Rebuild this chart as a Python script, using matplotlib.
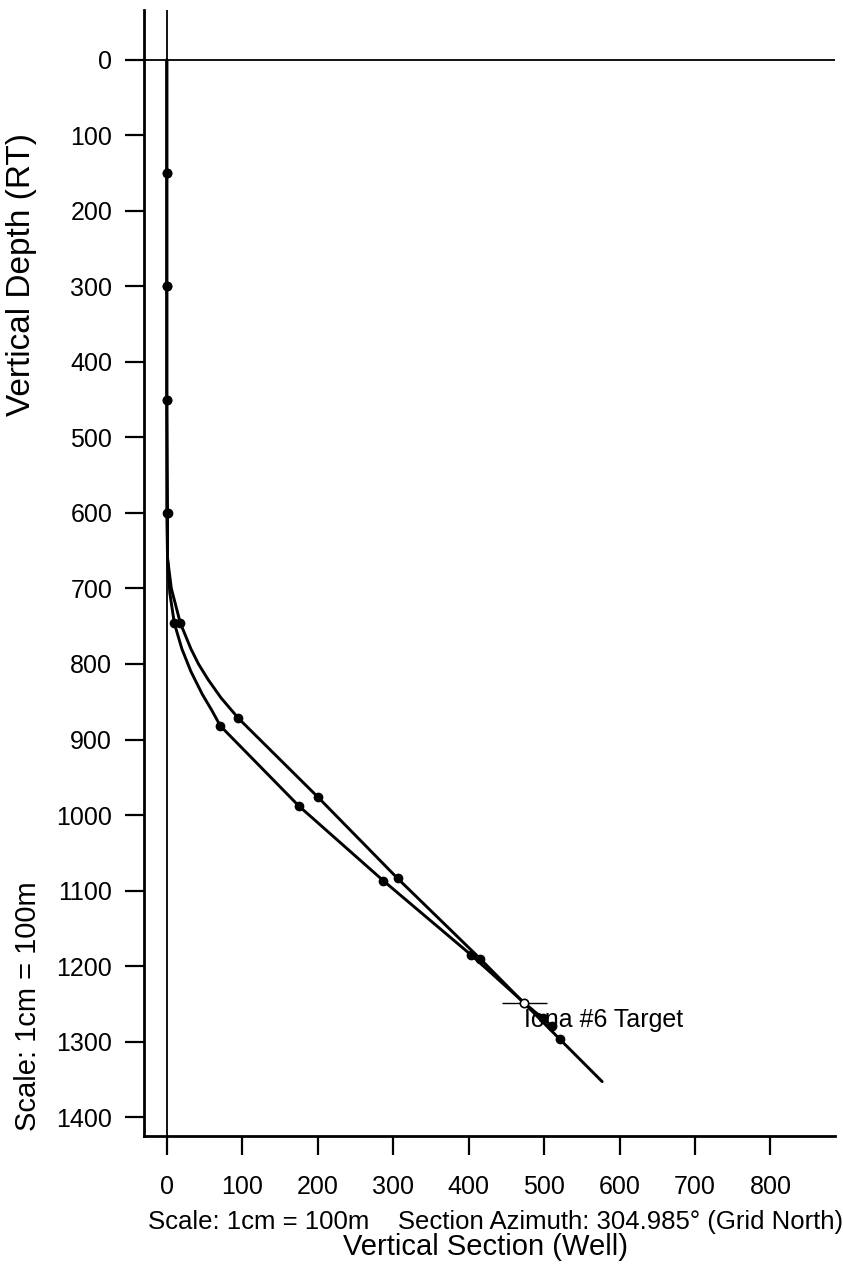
import matplotlib
matplotlib.use("Agg")
import matplotlib.pyplot as plt

plt.rcParams['font.family'] = ['Liberation Sans', 'DejaVu Sans']

# well path traced as (vertical section, depth) vertices; survey stations marked
plan_vs = [0, 0, 0, 0, 0, 1, 6, 18, 32, 42, 55, 72, 95, 200, 306, 415, 521, 577]
plan_tvd = [0, 150, 300, 450, 600, 660, 700, 746, 780, 800, 821, 845, 872, 976, 1084, 1190, 1297, 1353]
plan_stations = [1, 2, 3, 4, 7, 12, 13, 14, 15, 16]

act_vs = [0, 0, 0, 0, 1, 1, 4, 10, 20, 32, 47, 60, 71, 175, 287, 403, 474, 498, 510]
act_tvd = [0, 150, 300, 450, 600, 660, 706, 746, 780, 810, 840, 862, 882, 988, 1087, 1185, 1249, 1269, 1279]
act_stations = [1, 2, 3, 4, 7, 12, 13, 14, 15, 17, 18]

target_vs, target_tvd = 474, 1249
target_label = "Iona #6 Target"

y_ticks = list(range(0, 1401, 100))
x_ticks = list(range(0, 801, 100))

fig = plt.figure(figsize=(8.43, 12.66), dpi=100)
ax = fig.add_axes([0.171, 0.1027, 0.819, 0.8894])

ax.axhline(0, color='black', lw=1.3)
ax.axvline(0, color='black', lw=1.3)

for vs, tvd, st in [(plan_vs, plan_tvd, plan_stations), (act_vs, act_tvd, act_stations)]:
    ax.plot(vs, tvd, '-', color='black', lw=2.1, marker='o', ms=6,
            markevery=st, solid_capstyle='round', solid_joinstyle='round')

# target marker
ax.hlines(target_tvd, target_vs - 30, target_vs + 30, color='black', lw=1.0)
ax.plot([target_vs], [target_tvd], 'o', mfc='white', mec='black', ms=6, mew=1.2)
ax.text(target_vs, 1271, target_label, fontsize=18, va='center', ha='left')

ax.set_xlim(-30, 885)
ax.set_ylim(1425, -66)
ax.set_xticks(x_ticks)
ax.set_yticks(y_ticks)
ax.tick_params(axis='both', direction='out', length=14, width=1.6, labelsize=18)
ax.tick_params(axis='x', pad=14)
ax.tick_params(axis='y', pad=9)

for side in ['top', 'right']:
    ax.spines[side].set_visible(False)
for side in ['left', 'bottom']:
    ax.spines[side].set_linewidth(2.0)

fig.text(0.025, 0.783, "Vertical Depth (RT)", rotation=90, fontsize=24,
         ha='center', va='center')
fig.text(0.033, 0.205, "Scale: 1cm = 100m", rotation=90, fontsize=21,
         ha='center', va='center')
fig.text(148 / 843, 1 - 1222 / 1266,
         "Scale: 1cm = 100m    Section Azimuth: 304.985\u00b0 (Grid North)",
         fontsize=18.5, ha='left', va='center')
fig.text(485 / 843, 1 - 1247 / 1266, "Vertical Section (Well)", fontsize=21,
         ha='center', va='center')

fig.savefig("out.png", dpi=100)
